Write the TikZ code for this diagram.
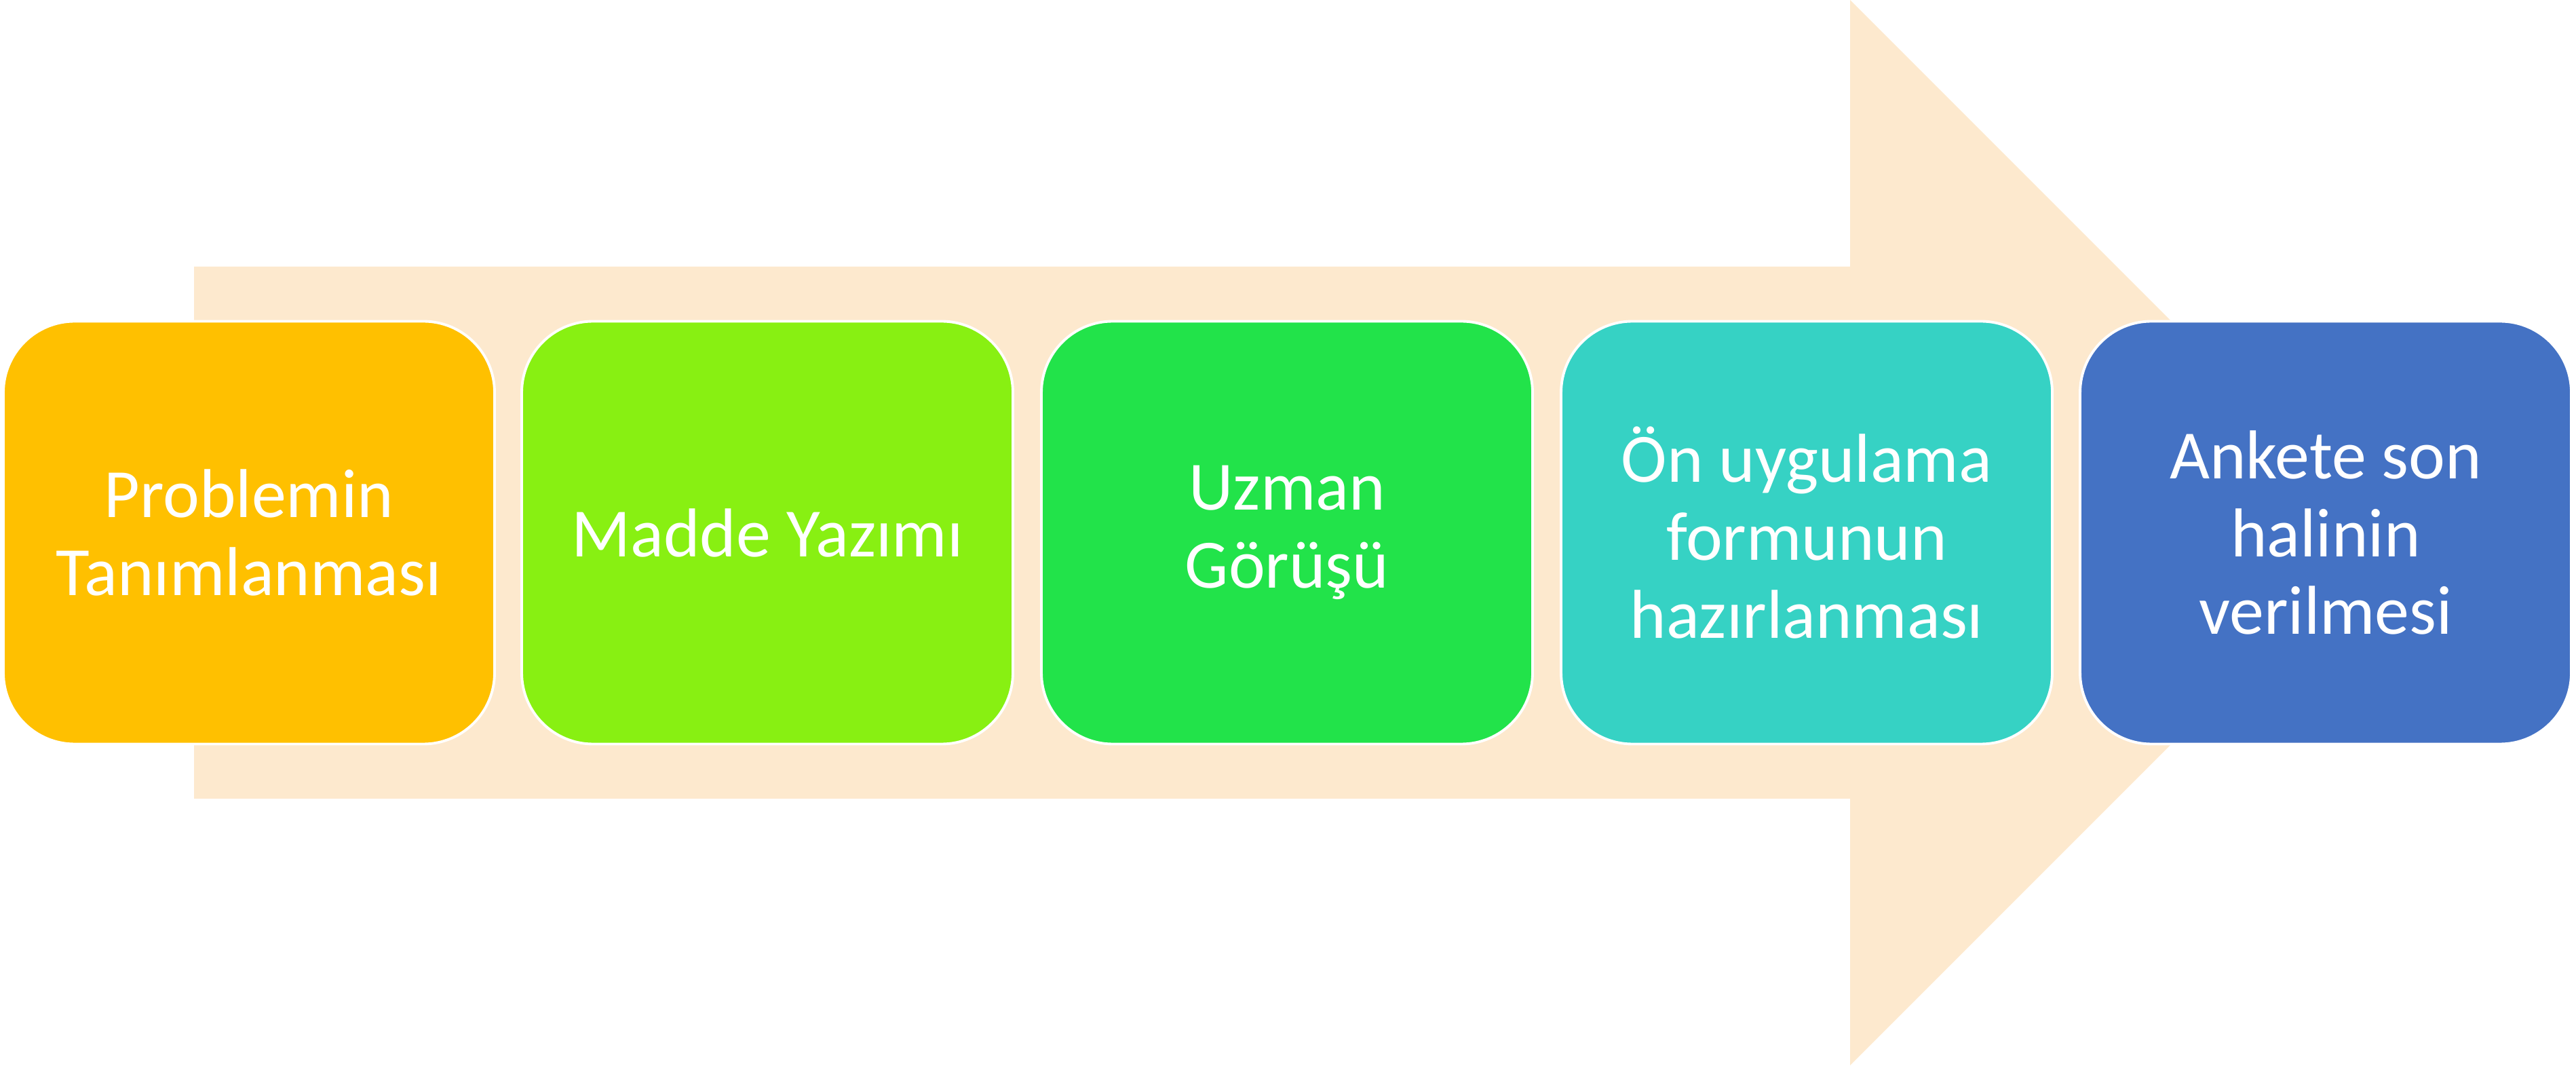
\documentclass[tikz,border=0pt]{standalone}
\usepackage{fontspec}
\setmainfont{Carlito}
\usetikzlibrary{positioning}
\definecolor{arrowbg}{RGB}{253,233,206}
\definecolor{stepgold}{RGB}{255,192,0}
\definecolor{steplime}{RGB}{136,240,18}
\definecolor{stepgreen}{RGB}{34,227,74}
\definecolor{stepteal}{RGB}{54,210,196}
\definecolor{stepblue}{RGB}{68,114,196}

\begin{document}
\begin{tikzpicture}[
    stepbox/.style={draw=white,line width=1.1pt,rounded corners=1.05cm,
                    minimum width=7.24cm,minimum height=6.23cm,align=center,
                    text=white,font=\fontsize{29}{32.7}\selectfont},
]
  \useasboundingbox (0,0) rectangle (37.97,15.70);

  % Background arrow
  \fill[arrowbg] (2.86,11.77) -- (27.27,11.77) -- (27.27,15.70) -- (35.12,7.85)
                 -- (27.27,0) -- (27.27,3.93) -- (2.86,3.93) -- cycle;

  % Boxes
  \node[stepbox,fill=stepgold] (prob) at (3.67,7.85) {Problemin\\Tanımlanması};
  \node[stepbox,fill=steplime] (madde) at (11.31,7.85) {Madde Yazımı};
  \node[stepbox,fill=stepgreen] (uzman) at (18.97,7.85) {Uzman\\Görüşü};
  \node[stepbox,fill=stepteal] (onuyg) at (26.63,7.85) {Ön uygulama\\formunun\\hazırlanması};
  \node[stepbox,fill=stepblue] (anket) at (34.28,7.85) {Ankete son\\halinin\\verilmesi};
\end{tikzpicture}
\end{document}
